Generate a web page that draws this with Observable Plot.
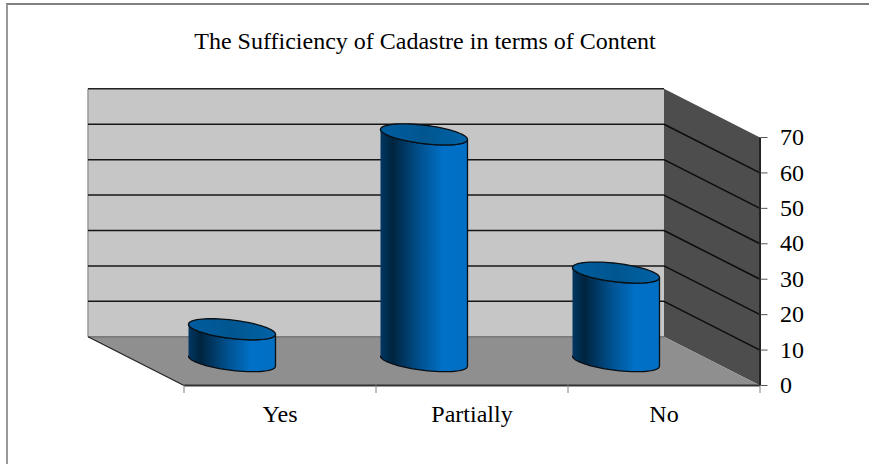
<!DOCTYPE html>
<html>
<head>
<meta charset="utf-8">
<script src="https://cdn.jsdelivr.net/npm/d3@7"></script>
<script src="https://cdn.jsdelivr.net/npm/@observablehq/plot@0.6"></script>
<style>
  html, body { margin: 0; padding: 0; background: #fff; overflow: hidden; }
  #chart { position: relative; width: 869px; height: 464px; }
  #chart::before {
    content: ""; position: absolute; left: 6px; top: 3px; right: 0; bottom: 0;
    border-left: 2px solid #999; border-top: 2px solid #808080;
  }
  #chart svg { position: absolute; left: 0; top: 0; background: transparent; }
</style>
</head>
<body>
<div id="chart"></div>
<script>
// Survey answers, in percent
const categories = ["Yes", "Partially", "No"];
const shares = [9, 64, 25];
const valueTicks = [0, 10, 20, 30, 40, 50, 60, 70];
const gridValues = [10, 20, 30, 40, 50, 60];
const chartTitle = "The Sufficiency of Cadastre in terms of Content";

// Oblique projection: depth 1 is the back wall, 0 the front edge of the floor.
const depthX = 0.5;     // category units
const depthY = 13.75;   // value units
const maxValue = 70;
const project = (cat, value, depth) => ({x: cat - depthX * depth, y: value + depthY * depth});

const backWall = [[0, 0], [3, 0], [3, maxValue], [0, maxValue]].map(([c, v]) => project(c, v, 1));
const floor = [project(0, 0, 1), project(3, 0, 1), project(3, 0, 0), project(0, 0, 0)];
const sideWall = [project(3, 0, 1), project(3, maxValue, 1), project(3, maxValue, 0), project(3, 0, 0)];

// Each cylinder stands on a circle in the floor plane, seen through the projection.
const radiusX = 0.199;
const radiusDepth = 0.2165;
const limb = Math.atan2(-depthX * radiusDepth, radiusX);
const onCircle = (i, value, t) => {
  const c = project(i + 0.5, value, 0.5);
  return {
    x: c.x + radiusX * Math.cos(t) - depthX * radiusDepth * Math.sin(t),
    y: c.y + depthY * radiusDepth * Math.sin(t)
  };
};
const turn = d3.range(0, 73).map(k => k * Math.PI / 36);
const frontArc = turn.slice(0, 37).map(t => limb - Math.PI + t);
const cylinderBody = (i, v) => [
  ...frontArc.map(t => onCircle(i, 0, t)),
  ...frontArc.slice().reverse().map(t => onCircle(i, v, t))
];
const cylinderTop = (i, v) => turn.map(t => onCircle(i, v, t));

// Shared gradient definitions for the shaded cylinder walls
function gradients() {
  const ns = "http://www.w3.org/2000/svg";
  const defs = document.createElementNS(ns, "defs");
  const add = (id, stops) => {
    const g = document.createElementNS(ns, "linearGradient");
    g.setAttribute("id", id);
    for (const [offset, color] of stops) {
      const s = document.createElementNS(ns, "stop");
      s.setAttribute("offset", offset);
      s.setAttribute("stop-color", color);
      g.appendChild(s);
    }
    defs.appendChild(g);
  };
  add("cylinderWall", [[0, "#003763"], [0.14, "#00243f"], [0.45, "#00518f"], [0.72, "#0070c6"], [1, "#006fc4"]]);
  add("cylinderCap", [[0, "#005da0"], [0.5, "#00568f"], [1, "#0063a8"]]);
  return defs;
}

const serif = "'Liberation Serif', 'Times New Roman', serif";
const polygon = (points, fill, stroke = "none", strokeWidth = 1) =>
  Plot.line(points, {x: "x", y: "y", fill, stroke, strokeWidth});

const chart = Plot.plot({
  width: 869,
  height: 464,
  marginLeft: 183.5,
  marginRight: 109.5,
  marginTop: 137,
  marginBottom: 79,
  style: {background: "transparent", fontFamily: serif},
  x: {domain: [0, 3]},
  y: {domain: [0, maxValue]},
  marks: [
    gradients,

    // Walls and floor
    polygon(backWall, "#c6c6c6"),
    Plot.link([0], {
      x1: -depthX, x2: -depthX, y1: depthY, y2: maxValue + depthY,
      stroke: "#999", strokeWidth: 1.5
    }),
    Plot.link(gridValues, {
      x1: -depthX, x2: 3 - depthX, y1: v => v + depthY, y2: v => v + depthY,
      stroke: "#161616", strokeWidth: 1.5
    }),
    Plot.link([maxValue], {
      x1: -depthX, x2: 3 - depthX, y1: v => v + depthY, y2: v => v + depthY,
      stroke: "#222", strokeWidth: 1.5
    }),
    polygon(sideWall, "#4d4d4d"),
    Plot.link(gridValues, {
      x1: 3 - depthX, x2: 3, y1: v => v + depthY, y2: v => v,
      stroke: "#0c0c0c", strokeWidth: 1.5
    }),
    polygon(floor, "#8f8f8f"),
    Plot.link([0], {
      x1: -depthX, x2: 3 - depthX, y1: depthY, y2: depthY,
      stroke: "#5e5e5e", strokeWidth: 1
    }),
    Plot.link([0], {
      x1: -depthX, x2: 0, y1: depthY, y2: 0,
      stroke: "#222", strokeWidth: 1.2
    }),
    Plot.link([0], {
      x1: 0, x2: 3, y1: 0, y2: 0,
      stroke: "#333", strokeWidth: 2
    }),

    // Cylinders
    ...shares.flatMap((v, i) => [
      polygon(cylinderBody(i, v), "url(#cylinderWall)", "#0a0f14", 1.3),
      polygon(cylinderTop(i, v), "url(#cylinderCap)", "#0a0f14", 1.3)
    ]),

    // Axes
    Plot.link([0], {x1: 3, x2: 3, y1: 0, y2: maxValue, stroke: "#222", strokeWidth: 2}),
    Plot.axisY(valueTicks, {
      anchor: "right", label: null, tickSize: 7, tickPadding: 13,
      stroke: "#555", fontSize: 24, fill: "#000", fontFamily: serif
    }),
    Plot.axisX([0, 1, 2, 3], {
      anchor: "bottom", label: null, tickSize: 8, tickFormat: () => "", stroke: "#808080"
    }),
    Plot.axisX(categories.map((_, i) => i + 0.5), {
      anchor: "bottom", label: null, tickSize: 0, tickPadding: 19,
      tickFormat: x => categories[Math.floor(x)], fontSize: 24, fill: "#000", fontFamily: serif
    }),
    Plot.text([chartTitle], {
      text: d => d, frameAnchor: "top", dx: -47, dy: -105.5,
      fontSize: 24, fill: "#000", fontFamily: serif
    })
  ]
});

document.getElementById("chart").appendChild(chart);
</script>
</body>
</html>
